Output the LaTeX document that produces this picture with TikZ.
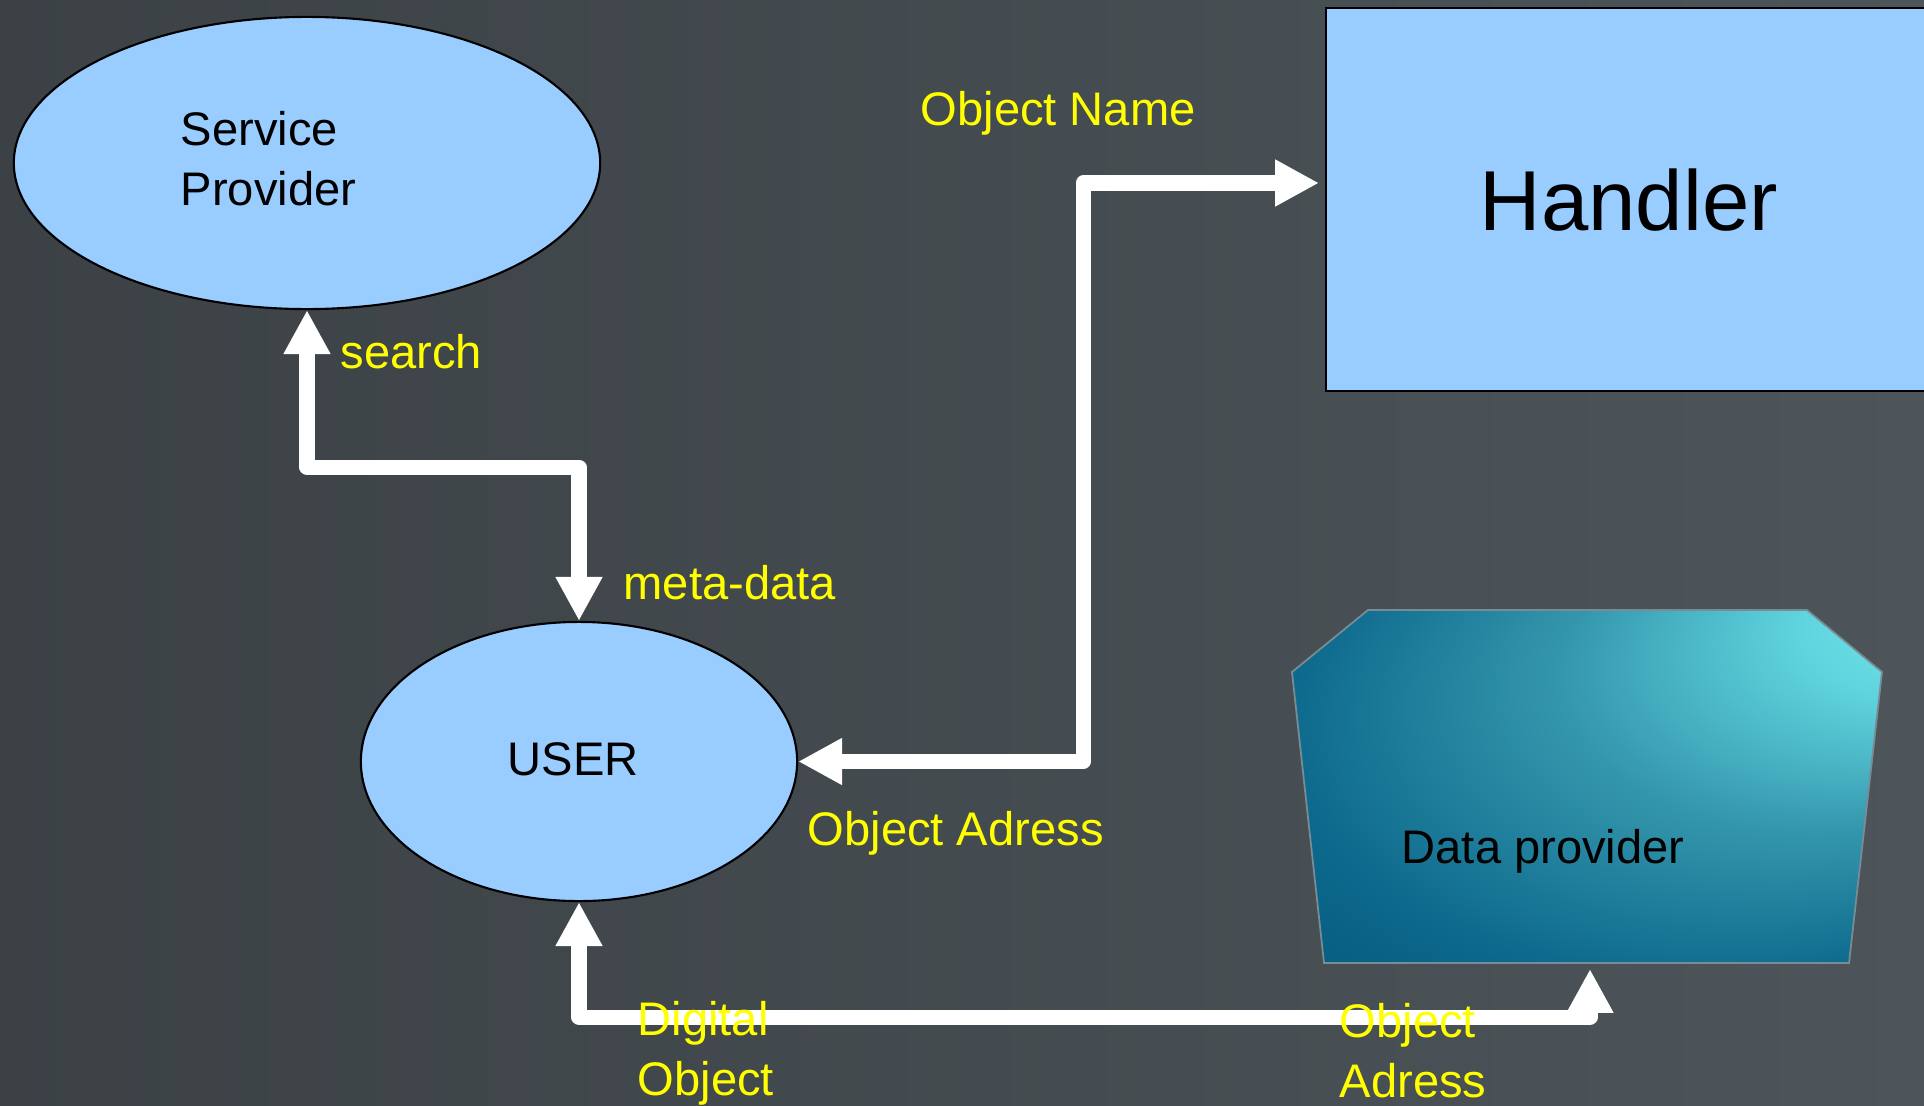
\documentclass[tikz,border=0pt]{standalone}
\usepackage{fontspec}
\setmainfont{Liberation Sans}
\usetikzlibrary{shapes.geometric,arrows.meta}
\definecolor{bgleft}{RGB}{59,65,69}
\definecolor{bgright}{RGB}{77,85,90}
\definecolor{bubblefill}{RGB}{153,204,255}
\definecolor{lblyellow}{RGB}{255,255,0}
\definecolor{dplight}{RGB}{125,240,242}
\definecolor{dpsoft}{RGB}{95,212,222}
\definecolor{dpmid}{RGB}{52,150,172}
\definecolor{dpdark}{RGB}{12,104,140}
\definecolor{dpdeep}{RGB}{0,80,112}
\definecolor{dpedge}{RGB}{120,140,150}
\pgfdeclareradialshading{dpglow}{\pgfpoint{35bp}{28bp}}{color(0bp)=(dplight); color(10bp)=(dpsoft); color(22bp)=(dpmid); color(36bp)=(dpdark); color(50bp)=(dpdeep)}
\tikzset{
  bubble/.style={ellipse, draw=black, line width=0.6pt, fill=bubblefill, inner sep=0pt},
  boxnode/.style={rectangle, draw=black, line width=0.6pt, fill=bubblefill, inner sep=0pt},
  wire/.style={draw=white, line width=4.3pt, line join=round, >={Triangle[length=12.5pt,width=12.5pt]}, <->},
  lbl/.style={text=lblyellow, font=\fontsize{13.4}{17.2}\selectfont, anchor=base west, inner sep=0pt},
  txt/.style={text=black, font=\fontsize{13.4}{17.2}\selectfont, anchor=base west, inner sep=0pt}
}
\begin{document}
\begin{tikzpicture}[x=0.01cm,y=-0.01cm]
    \useasboundingbox (0,0) rectangle (1924,1106);
    % fond
    \shade[left color=bgleft, right color=bgright] (0,0) rectangle (1924,1106);
    % Service Provider
    \node[bubble, minimum width=5.86cm, minimum height=2.92cm] (sp) at (307,163) {};
    \node[txt] (sptext) at (180,145) {\begin{tabular}[t]{@{}l@{}}Service\\Provider\end{tabular}};
    % USER
    \node[bubble, minimum width=4.36cm, minimum height=2.79cm] (user) at (579,761.5) {};
    \node[txt] (usertext) at (507,775) {USER};
    % Handler
    \node[boxnode, minimum width=6.05cm, minimum height=3.83cm, anchor=north west,
          font=\fontsize{24.2}{29}\selectfont] (handler) at (1325,7) {Handler};
    % Data provider
    \shade[shading=dpglow, draw=dpedge, line width=0.5pt]
        (1368,610) -- (1807,610) -- (1882,672) -- (1849,963) -- (1324,963) -- (1292,672) -- cycle;
    \node[txt] (dptext) at (1401,863) {Data provider};
    \coordinate (hin) at (1319,183);
    \coordinate (dpin) at (1590,969);
    % fleches
    \draw[wire] (sp.south) -- ++(0,157) -| (user.north);
    \draw[wire] (user.east) -- ++(285,0) |- (hin);
    \draw[wire] (user.south) -- ++(0,115) -| (dpin);
    % etiquettes
    \node[lbl] (search) at (340,368) {search};
    \node[lbl] (meta) at (623,599) {meta-data};
    \node[lbl] (oname) at (920,125) {Object Name};
    \node[lbl] (oadr) at (807,845) {Object Adress};
    \node[lbl] (digobj) at (637,1035) {\begin{tabular}[t]{@{}l@{}}Digital\\Object\end{tabular}};
    \node[lbl] (oadr2) at (1339,1037) {\begin{tabular}[t]{@{}l@{}}Object\\Adress\end{tabular}};
\end{tikzpicture}
\end{document}
